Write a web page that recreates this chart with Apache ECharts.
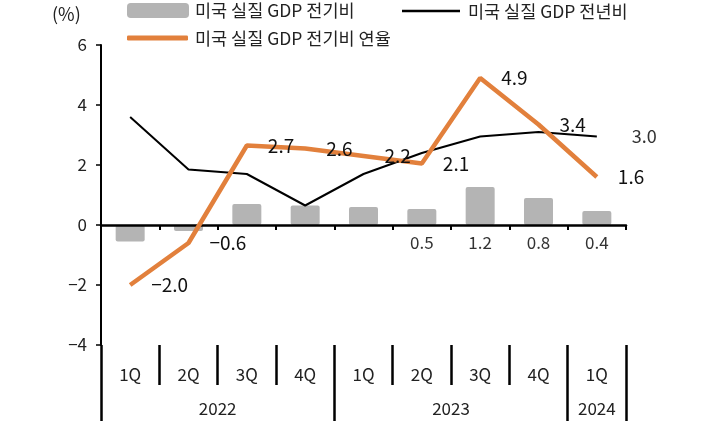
<!DOCTYPE html>
<html><head><meta charset="utf-8">
<script src="https://cdn.jsdelivr.net/npm/echarts@6/dist/echarts.min.js"></script>
<style>html,body{margin:0;padding:0;background:#fff}#c{width:704px;height:426px}</style>
</head><body><div id="c"></div>
<script>
const quarters = ['1Q','2Q','3Q','4Q','1Q','2Q','3Q','4Q','1Q'];
const yearLabels = ['','','','','2022','','','','','','','','2023','','','','','2024',''];
const yearTickIdx = [0, 8, 16, 18];
const qoq = [-0.55, -0.2, 0.7, 0.65, 0.6, 0.53, 1.27, 0.9, 0.47];
const qoqLabels = ['', '', '', '', '', '0.5', '1.2', '0.8', '0.4'];
const yoy = [3.6, 1.85, 1.7, 0.65, 1.7, 2.4, 2.95, 3.1, 2.95];
const yoyLabels = ['', '', '', '', '', '', '', '', '3.0'];
const saar = [-2.0, -0.6, 2.65, 2.55, 2.3, 2.05, 4.9, 3.35, 1.6];
const saarLabels = ['−2.0', '−0.6', '2.7', '2.6', '2.2', '2.1', '4.9', '3.4', '1.6'];
const names = ['미국 실질 GDP 전기비', '미국 실질 GDP 전년비', '미국 실질 GDP 전기비 연율'];

const FONT = '"Noto Sans CJK KR", "Noto Sans", sans-serif';
const chart = echarts.init(document.getElementById('c'), null, {renderer: 'canvas'});
const legendText = (pl) => ({fontFamily: FONT, fontSize: 17.5, lineHeight: 20, color: '#222', padding: [0, 0, 0, pl]});
chart.setOption({
  animation: false,
  textStyle: {fontFamily: FONT},
  title: {text: '(%)', left: 52, top: 5, padding: 0, textStyle: {fontFamily: FONT, fontSize: 18, fontWeight: 'normal', color: '#222'}},
  legend: [
    {data: [{name: names[0], icon: 'roundRect'}], left: 127, top: 0.5, padding: 0, itemWidth: 62, itemHeight: 15, textStyle: legendText(1), itemStyle: {borderWidth: 0}},
    {data: [{name: names[1], icon: 'rect'}], left: 402, top: 1, padding: 0, itemWidth: 58, itemHeight: 2.5, textStyle: legendText(3), itemStyle: {borderWidth: 0}},
    {data: [{name: names[2], icon: 'roundRect'}], left: 127, top: 28, padding: 0, itemWidth: 61, itemHeight: 5, textStyle: legendText(2), itemStyle: {borderWidth: 0}}
  ],
  grid: {left: 101, right: 78, top: 45, bottom: 81, containLabel: false},
  xAxis: [
    {type: 'category', data: quarters, z: 3,
     axisLine: {onZero: true, lineStyle: {color: '#000', width: 2.5}},
     axisTick: {show: true, length: 5, lineStyle: {color: '#000', width: 2}},
     axisLabel: {show: false}, splitLine: {show: false}},
    {type: 'category', data: quarters, position: 'bottom',
     axisLine: {show: false, onZero: false},
     axisTick: {show: true, length: 40, lineStyle: {color: '#000', width: 2.5}},
     axisLabel: {margin: 21, fontSize: 17, color: '#222', fontFamily: FONT}},
    {type: 'category', data: yearLabels, position: 'bottom', boundaryGap: false,
     axisLine: {show: false, onZero: false},
     axisTick: {show: true, length: 76, interval: (i) => yearTickIdx.indexOf(i) >= 0, lineStyle: {color: '#000', width: 2.5}},
     axisLabel: {margin: 55, fontSize: 17, color: '#222', fontFamily: FONT, interval: (i, v) => v !== ''}}
  ],
  yAxis: {type: 'value', min: -4, max: 6, interval: 2,
    axisLine: {show: true, onZero: false, lineStyle: {color: '#000', width: 2}},
    axisTick: {show: true, length: 5, lineStyle: {color: '#000', width: 1.5}},
    axisLabel: {margin: 14, fontSize: 17, color: '#222', fontFamily: FONT, formatter: v => String(v).replace('-', '−')},
    splitLine: {show: false}},
  series: [
    {name: names[0], type: 'bar', xAxisIndex: 0, data: qoq, barWidth: 29, z: 1,
     itemStyle: {color: '#b4b4b4', borderRadius: 2},
     label: {show: true, position: 'bottom', distance: 9, fontSize: 17, color: '#333', fontFamily: FONT,
             formatter: p => qoqLabels[p.dataIndex]}},
    {name: names[1], type: 'line', xAxisIndex: 0, data: yoy, z: 4, symbol: 'circle', symbolSize: 0, showSymbol: true,
     itemStyle: {color: '#000'}, lineStyle: {color: '#000', width: 2},
     label: {show: true, position: 'right', distance: 35, fontSize: 18, color: '#333', fontFamily: FONT,
             formatter: p => yoyLabels[p.dataIndex]}},
    {name: names[2], type: 'line', xAxisIndex: 0, data: saar, z: 5, symbol: 'circle', symbolSize: 0, showSymbol: true,
     itemStyle: {color: '#E2803C'}, lineStyle: {color: '#E2803C', width: 4.5},
     label: {show: true, position: 'right', distance: 21, fontSize: 19, color: '#111', fontFamily: FONT,
             formatter: p => saarLabels[p.dataIndex]}}
  ]
});
</script></body></html>
